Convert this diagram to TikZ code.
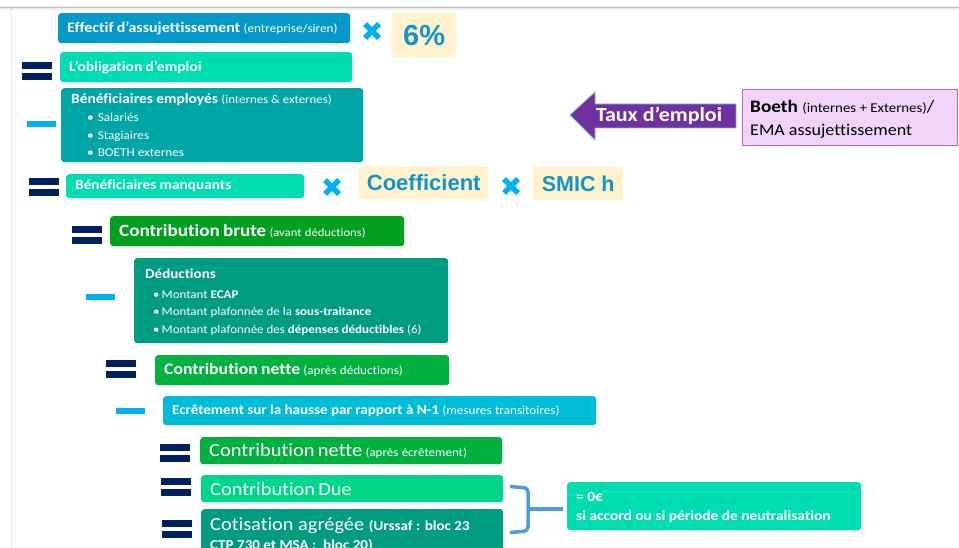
\documentclass[tikz,border=0pt]{standalone}
\usepackage{fontspec}
\setmainfont{Carlito}[FakeStretch=1.1, Ligatures=NoCommon]
\newfontfamily\arialf{Liberation Sans}
\definecolor{cBlue}{HTML}{0599C9}
\definecolor{cTurq}{HTML}{00DDB0}
\definecolor{cTeal}{HTML}{00A6A6}
\definecolor{cGreen}{HTML}{009F1F}
\definecolor{cDed}{HTML}{009C82}
\definecolor{cNette}{HTML}{00B140}
\definecolor{cEcr}{HTML}{00BCD6}
\definecolor{cDue}{HTML}{00D68A}
\definecolor{cCot}{HTML}{009B80}
\definecolor{cNavy}{HTML}{002060}
\definecolor{cCyan}{HTML}{00B0F0}
\definecolor{cCream}{HTML}{FFF2CC}
\definecolor{cNum}{HTML}{1195C9}
\definecolor{cPurple}{HTML}{7030A0}
\definecolor{cLilac}{HTML}{F0D4FA}
\definecolor{cLilacB}{HTML}{C462C0}
\definecolor{cBrace}{HTML}{4A9EDD}
\tikzset{
  box/.style={rounded corners=3pt, anchor=north west, inner xsep=9pt, inner ysep=0pt, text=white, align=left},
  lbl/.style={anchor=base west, inner sep=0pt},
  wlbl/.style={anchor=base west, inner sep=0pt, text=white},
  cream/.style={fill=cCream, anchor=north west, inner sep=0pt, text=cNum, font=\arialf\bfseries},
  eqbar/.style={fill=cNavy},
  minus/.style={fill=cCyan},
  cross/.style={draw=cCyan, line width=5.5pt},
}
\newcommand{\eqs}[2]{\fill[eqbar] (#1,#2) rectangle ++(30,7); \fill[eqbar] (#1,#2+11) rectangle ++(30,7);}
\newcommand{\mns}[2]{\fill[minus] (#1,#2) rectangle ++(29,6);}
\newcommand{\crs}[2]{\draw[cross] (#1-7,#2-7) -- (#1+7,#2+7); \draw[cross] (#1-7,#2+7) -- (#1+7,#2-7);}
\begin{document}
\begin{tikzpicture}[x=1pt,y=-1pt]
\useasboundingbox (0,0) rectangle (959,548);
\clip (0,0) rectangle (959,548);
\fill[white] (0,0) rectangle (959,548);
% frame lines
\fill[black!7] (0,6) rectangle (959,10);
\draw[black!25, line width=1pt] (0,8) -- (959,8);
\draw[black!8, line width=1pt] (11,8) -- (11,548);

% row 1
\node[box, fill=cBlue, minimum width=292pt, minimum height=30pt, text width=274pt] (eff) at (58,13)
  {\fontsize{14.5}{17}\selectfont\bfseries Effectif d’assujettissement \mdseries\fontsize{12}{14}\selectfont(entreprise/siren)};
\crs{372}{31}
\node[cream, minimum width=64pt, minimum height=44pt] (six) at (392,13) {\fontsize{29}{32}\selectfont 6\%};

% row 2
\eqs{22}{62}
\node[box, fill=cTurq, minimum width=292pt, minimum height=30pt, text width=274pt] (obl) at (60,52)
  {\fontsize{14.1}{17}\selectfont\bfseries L’obligation d’emploi};

% row 3
\mns{27}{121}
\node[box, fill=cTeal, minimum width=302pt, minimum height=74pt] (benemp) at (61,88) {};
\node[wlbl] (be0) at (71,104) {\fontsize{14}{16}\selectfont\bfseries Bénéficiaires employés \mdseries\fontsize{11.7}{14}\selectfont(internes \& externes)};
\node[wlbl] (be1) at (87,121.5) {\fontsize{12}{14}\selectfont\textbullet\hspace{4pt}Salariés};
\node[wlbl] (be2) at (87,139.5) {\fontsize{12}{14}\selectfont\textbullet\hspace{4pt}Stagiaires};
\node[wlbl] (be3) at (87,156.5) {\fontsize{12}{14}\selectfont\textbullet\hspace{4pt}BOETH externes};

% arrow + Boeth
\filldraw[fill=cPurple, draw=cBrace!70, line width=0.8pt] (570,115) -- (595,92) -- (595,104) -- (736,104) -- (736,128) -- (595,128) -- (595,140) -- cycle;
\node[anchor=center, text=white, inner sep=0pt] (taux) at (659,116) {\fontsize{20}{23}\selectfont\bfseries Taux d’emploi};
\node[draw=cLilacB, fill=cLilac, line width=1pt, anchor=north west, minimum width=215pt, minimum height=56pt, inner sep=0pt] (boeth) at (742,89) {};
\node[lbl] (bo1) at (750,113) {\fontsize{17.5}{20}\selectfont\bfseries Boeth \mdseries\fontsize{13.5}{15}\selectfont(internes + Externes)\fontsize{17.5}{20}\selectfont/};
\node[lbl] (bo2) at (750,135.5) {\fontsize{16.4}{19}\selectfont EMA assujettissement};

% row 4
\eqs{29}{178}
\node[box, fill=cTurq, minimum width=238pt, minimum height=24pt, text width=220pt] (manq) at (66,174)
  {\fontsize{13.9}{16}\selectfont\bfseries Bénéficiaires manquants};
\crs{332}{187}
\node[cream, minimum width=129pt, minimum height=33pt] (coef) at (359,166) {\fontsize{22}{25}\selectfont Coefficient};
\crs{511}{186}
\node[cream, minimum width=90pt, minimum height=33pt] (smic) at (533,167) {\fontsize{21.5}{24}\selectfont SMIC h};

% row 5
\eqs{72}{226}
\node[box, fill=cGreen, minimum width=294pt, minimum height=30pt, text width=276pt] (brute) at (110,216)
  {\fontsize{17.3}{20}\selectfont\bfseries Contribution brute \mdseries\fontsize{11.5}{13}\selectfont(avant déductions)};

% row 6
\mns{86}{294}
\node[box, fill=cDed, minimum width=314pt, minimum height=85pt] (ded) at (134,258) {};
\node[wlbl] (d0) at (145,279) {\fontsize{13.7}{16}\selectfont\bfseries Déductions};
\node[wlbl] (d1) at (153,298.5) {\fontsize{11.8}{14}\selectfont\textbullet\hspace{2pt}Montant \textbf{ECAP}};
\node[wlbl] (d2) at (153,315.5) {\fontsize{11.8}{14}\selectfont\textbullet\hspace{2pt}Montant plafonnée de la \textbf{sous-traitance}};
\node[wlbl] (d3) at (153,334) {\fontsize{11.8}{14}\selectfont\textbullet\hspace{2pt}Montant plafonnée des \textbf{dépenses déductibles} (6)};

% row 7
\eqs{106}{360}
\node[box, fill=cNette, minimum width=294pt, minimum height=30pt, text width=276pt] (nette) at (155,355)
  {\fontsize{16.1}{19}\selectfont\bfseries Contribution nette \mdseries\fontsize{11.9}{14}\selectfont(après déductions)};

% row 8
\mns{116}{408}
\node[box, fill=cEcr, minimum width=433pt, minimum height=29pt, text width=415pt] (ecr) at (163,396)
  {\fontsize{13.7}{16}\selectfont\bfseries Ecrêtement sur la hausse par rapport à N-1 \mdseries\fontsize{12}{14}\selectfont(mesures transitoires)};

% row 9
\eqs{160}{444}
\node[box, fill=cNette, minimum width=302pt, minimum height=27pt, text width=284pt] (nette2) at (200,437)
  {\fontsize{18.6}{21}\selectfont Contribution nette \fontsize{11.8}{14}\selectfont(après écrêtement)};

% row 10
\eqs{161}{478}
\node[box, fill=cDue, minimum width=302pt, minimum height=27pt, text width=284pt] (due) at (201,475)
  {\fontsize{18.5}{21}\selectfont Contribution Due};

% row 11
\eqs{162}{520}
\node[box, fill=cCot, minimum width=302pt, minimum height=60pt] (cot) at (201,509) {};
\node[wlbl] (c1) at (210,530) {\fontsize{18.5}{21}\selectfont Cotisation agrégée \bfseries\fontsize{13.7}{16}\selectfont(Urssaf : bloc 23};
\node[wlbl] (c2) at (210,549) {\fontsize{13.7}{16}\selectfont\bfseries CTP 730 et MSA :\ \ bloc 20)};

% brace
\draw[cBrace, line width=3.5pt, rounded corners=4pt] (510,486.5) -- (528,488) -- (528,531) -- (510,532.5);
\draw[cBrace, line width=3.5pt] (528,509) -- (563,509);

% zero box
\node[box, fill=cTurq, minimum width=294pt, minimum height=48pt] (zero) at (567,482) {};
\node[wlbl] (z1) at (576,501.5) {\fontsize{14}{16}\selectfont\bfseries = 0€};
\node[wlbl] (z2) at (576,520) {\fontsize{14}{16}\selectfont\bfseries si accord ou si période de neutralisation};
\end{tikzpicture}
\end{document}
